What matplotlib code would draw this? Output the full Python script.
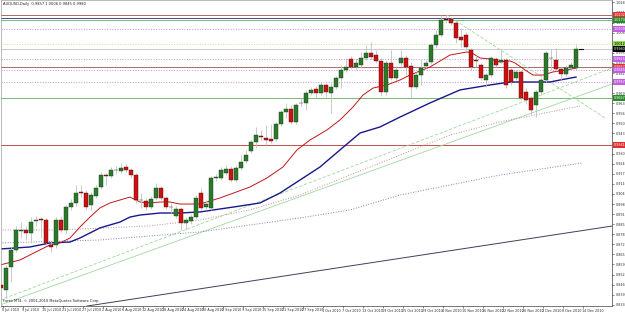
import numpy as np
import pandas as pd
import matplotlib
matplotlib.use("Agg")
import matplotlib.pyplot as plt
import matplotlib.transforms as mtransforms

# daily bars, 5 Jul 2010 .. 14 Dec 2010
dates = pd.bdate_range("2010-07-05", "2010-12-14")

opens = [0.8426, 0.8458, 0.8426, 0.8574, 0.8684, 0.8806, 0.8813, 0.8793, 0.8871, 0.8883,
         0.8877, 0.8716, 0.8716, 0.8877, 0.8813, 0.8961, 0.8987, 0.9058, 0.9051, 0.8974,
         0.9032, 0.9090, 0.9167, 0.9161, 0.9200, 0.9193, 0.9219, 0.9200, 0.9167, 0.9006,
         0.9000, 0.8961, 0.9019, 0.9083, 0.9019, 0.8961, 0.8903, 0.8948, 0.8858, 0.8871,
         0.8896, 0.9051, 0.8961, 0.8955, 0.9148, 0.9148, 0.9180, 0.9206, 0.9135, 0.9213,
         0.9258, 0.9322, 0.9380, 0.9419, 0.9406, 0.9400, 0.9400, 0.9496, 0.9574, 0.9593,
         0.9509, 0.9632, 0.9632, 0.9696, 0.9722, 0.9696, 0.9748, 0.9696, 0.9735, 0.9793,
         0.9845, 0.9916, 0.9864, 0.9877, 0.9922, 0.9954, 0.9941, 0.9903, 0.9703, 0.9890,
         0.9793, 0.9890, 0.9922, 0.9870, 0.9735, 0.9812, 0.9870, 0.9896, 1.0006, 1.0070,
         1.0173, 1.0173, 1.0148, 1.0057, 1.0070, 0.9974, 0.9909, 0.9877, 0.9780, 0.9812,
         0.9916, 0.9896, 0.9909, 0.9845, 0.9793, 0.9832, 0.9703, 0.9664, 0.9619, 0.9703,
         0.9780, 0.9922, 0.9909, 0.9851, 0.9819, 0.9857, 0.9857]
highs = [0.8477, 0.8490, 0.8587, 0.8703, 0.8838, 0.8864, 0.8838, 0.8896, 0.8903, 0.8896,
         0.8890, 0.8742, 0.8896, 0.8903, 0.8974, 0.9012, 0.9103, 0.9103, 0.9071, 0.9058,
         0.9103, 0.9187, 0.9180, 0.9219, 0.9226, 0.9245, 0.9238, 0.9213, 0.9180, 0.9051,
         0.9019, 0.9032, 0.9116, 0.9096, 0.9032, 0.8987, 0.8967, 0.8961, 0.8896, 0.8916,
         0.9038, 0.9083, 0.9006, 0.9161, 0.9174, 0.9219, 0.9232, 0.9226, 0.9232, 0.9296,
         0.9329, 0.9393, 0.9477, 0.9458, 0.9490, 0.9496, 0.9509, 0.9587, 0.9632, 0.9619,
         0.9632, 0.9664, 0.9716, 0.9735, 0.9741, 0.9767, 0.9761, 0.9761, 0.9806, 0.9877,
         0.9922, 0.9935, 0.9922, 0.9961, 1.0006, 1.0025, 0.9974, 0.9922, 0.9909, 0.9974,
         0.9870, 0.9974, 0.9941, 0.9896, 0.9832, 0.9909, 0.9909, 1.0019, 1.0103, 1.0199,
         1.0199, 1.0186, 1.0167, 1.0115, 1.0090, 0.9986, 0.9941, 0.9890, 0.9825, 0.9935,
         0.9928, 0.9974, 0.9922, 0.9857, 0.9845, 0.9845, 0.9728, 0.9677, 0.9716, 0.9793,
         0.9967, 0.9980, 0.9986, 0.9870, 0.9877, 0.9896, 1.0006]
lows = [0.8394, 0.8413, 0.8374, 0.8477, 0.8671, 0.8761, 0.8748, 0.8729, 0.8838, 0.8761,
        0.8716, 0.8671, 0.8696, 0.8800, 0.8793, 0.8942, 0.8967, 0.9025, 0.8942, 0.8942,
        0.9019, 0.9077, 0.9103, 0.9148, 0.9174, 0.9180, 0.9187, 0.9148, 0.8987, 0.8955,
        0.8942, 0.8948, 0.9006, 0.9006, 0.8948, 0.8922, 0.8890, 0.8813, 0.8813, 0.8851,
        0.8883, 0.8942, 0.8942, 0.8942, 0.9129, 0.9135, 0.9167, 0.9122, 0.9122, 0.9200,
        0.9245, 0.9309, 0.9341, 0.9393, 0.9361, 0.9374, 0.9387, 0.9483, 0.9535, 0.9496,
        0.9496, 0.9612, 0.9587, 0.9683, 0.9670, 0.9683, 0.9670, 0.9567, 0.9722, 0.9728,
        0.9832, 0.9851, 0.9845, 0.9857, 0.9909, 0.9909, 0.9890, 0.9677, 0.9683, 0.9780,
        0.9780, 0.9870, 0.9812, 0.9670, 0.9722, 0.9748, 0.9857, 0.9883, 0.9986, 1.0057,
        1.0148, 1.0135, 1.0019, 0.9993, 0.9974, 0.9845, 0.9864, 0.9780, 0.9735, 0.9799,
        0.9864, 0.9890, 0.9728, 0.9748, 0.9780, 0.9651, 0.9625, 0.9554, 0.9541, 0.9683,
        0.9767, 0.9845, 0.9838, 0.9780, 0.9806, 0.9845, 0.9845]
closes = [0.8451, 0.8438, 0.8567, 0.8684, 0.8813, 0.8813, 0.8793, 0.8864, 0.8877, 0.8877,
          0.8729, 0.8703, 0.8877, 0.8813, 0.8961, 0.8987, 0.9051, 0.9054, 0.8961, 0.9038,
          0.9083, 0.9167, 0.9164, 0.9200, 0.9199, 0.9213, 0.9200, 0.9167, 0.9006, 0.9009,
          0.8961, 0.9012, 0.9083, 0.9019, 0.8961, 0.8958, 0.8948, 0.8858, 0.8877, 0.8896,
          0.9019, 0.8955, 0.8980, 0.9148, 0.9154, 0.9200, 0.9206, 0.9135, 0.9213, 0.9251,
          0.9296, 0.9380, 0.9425, 0.9412, 0.9393, 0.9387, 0.9496, 0.9574, 0.9593, 0.9509,
          0.9619, 0.9630, 0.9696, 0.9716, 0.9696, 0.9748, 0.9703, 0.9735, 0.9793, 0.9845,
          0.9864, 0.9864, 0.9890, 0.9922, 0.9954, 0.9928, 0.9903, 0.9703, 0.9890, 0.9793,
          0.9845, 0.9922, 0.9864, 0.9735, 0.9812, 0.9857, 0.9890, 1.0006, 1.0070, 1.0167,
          1.0170, 1.0148, 1.0051, 1.0038, 0.9993, 0.9864, 0.9903, 0.9793, 0.9812, 0.9922,
          0.9877, 0.9909, 0.9748, 0.9767, 0.9832, 0.9664, 0.9651, 0.9587, 0.9703, 0.9780,
          0.9954, 0.9919, 0.9851, 0.9819, 0.9857, 0.9877, 0.9980]

# moving averages (bar index, price)
ma_fast_x = [0.8, 4.8, 8.8, 10.8, 12.8, 14.8, 16.8, 18.8, 20.8, 22.8, 24.8, 26.8, 28.8, 30.8,
             32.8, 34.8, 36.8, 38.8, 40.8, 44.8, 50.8, 54.2, 57.4, 60.2, 62.8, 66.2, 68.8,
             71.4, 73.4, 75.4, 78.2, 80.8, 82.8, 86.8, 90.8, 94.2, 95.2, 96.8, 98.8, 100.8,
             102.8, 103.8, 105.8, 107.4, 109.4, 111.4, 114.2, 116]
ma_fast_y = [0.8587, 0.8619, 0.8684, 0.8716, 0.8729, 0.8761, 0.8832, 0.8896, 0.8955, 0.8987,
             0.9006, 0.9025, 0.8993, 0.8987, 0.8993, 0.8993, 0.8980, 0.8980, 0.8980, 0.9019,
             0.9090, 0.9148, 0.9219, 0.9329, 0.9393, 0.9458, 0.9522, 0.9606, 0.9683, 0.9728,
             0.9748, 0.9780, 0.9812, 0.9864, 0.9941, 0.9961, 0.9954, 0.9922, 0.9916, 0.9896,
             0.9903, 0.9890, 0.9845, 0.9812, 0.9812, 0.9832, 0.9845, 0.9857]
ma_slow_x = [0.8, 6.8, 10.8, 14.8, 16.8, 20.8, 24.8, 26.8, 28.8, 32.8, 36.8, 40.8, 44.8, 48.8,
             52.8, 56.8, 60.8, 64.8, 68.8, 72.8, 76.8, 80.8, 86.8, 92.8, 98.8, 102.8, 106.8,
             110.8, 112.8, 116]
ma_slow_y = [0.8690, 0.8703, 0.8729, 0.8735, 0.8761, 0.8826, 0.8864, 0.8896, 0.8909, 0.8922,
             0.8922, 0.8929, 0.8948, 0.8967, 0.8987, 0.9051, 0.9135, 0.9219, 0.9329, 0.9438,
             0.9477, 0.9541, 0.9632, 0.9716, 0.9748, 0.9767, 0.9767, 0.9767, 0.9780, 0.9799]
ma100_x = [0.8, 12.8, 30.8, 40.8, 50.8, 60.8, 70.8, 80.8, 90.8, 100.8, 110.8, 116.8]
ma100_y = [0.8813, 0.8813, 0.8839, 0.8877, 0.8942, 0.9038, 0.9167, 0.9296, 0.9425, 0.9509, 0.9574, 0.9612]
ma200_x = [0.8, 20.8, 40.8, 60.8, 70.8, 80.8, 90.8, 100.8, 117.2]
ma200_y = [0.8729, 0.8748, 0.8800, 0.8890, 0.8942, 0.9038, 0.9103, 0.9167, 0.9245]

# trend lines (bar index, price)
trend_up1 = ([0.8, 123.2], [0.8361, 0.9857])
trend_up2 = ([0.8, 123.2], [0.8329, 0.9754])
trend_down = ([90.2, 121.8], [1.0199, 0.9535])
trend_long = ([18.2, 123.2], [0.8322, 0.8838])

# horizontal levels: price, colour, style, tag colour, tag text colour
levels = [
    (1.0202, "#a05050", "-", "#e03030", "white"),
    (1.0183, "#2a2a70", "-", None, None),
    (1.0170, "#60b060", "-", "#2a8a2a", "white"),
    (1.0109, "#c890d8", ":", "#c060e0", "white"),
    (1.0012, "#c0e890", ":", "#90e050", "black"),
    (0.9915, "#c890d8", ":", "#c060e0", "white"),
    (0.9867, "#a05050", "-", "#e03030", "white"),
    (0.9845, "#c890d8", ":", "#c060e0", "white"),
    (0.9767, "#c890d8", ":", "#c060e0", "white"),
    (0.9667, "#60b060", "-", "#2a8a2a", "white"),
    (0.9361, "#c03030", "-", "#e03030", "white"),
]

fig = plt.figure(figsize=(6.25, 3.13), dpi=100)
ax = fig.add_axes([1 / 625, 7 / 313, 611 / 625, 306 / 313])
ax.set_xlim(1.0, 123.2)
ax.set_ylim(0.83223, 1.0296)

idx = np.arange(len(dates))
o = np.array(opens); h = np.array(highs); l = np.array(lows); c = np.array(closes)
up = c >= o

# horizontal lines
for price, col, ls, tag, tcol in levels:
    ax.axhline(price, color=col, ls=ls, lw=0.6 if ls == "-" else 0.7, zorder=1)
ax.axhline(c[-1], color="#c0c0c0", lw=0.6, zorder=1)

# trend lines
ax.plot(*trend_up1, color="#a0d8a0", ls=(0, (4, 2)), lw=0.6, zorder=1)
ax.plot(*trend_up2, color="#a0d8a0", lw=0.6, zorder=1)
ax.plot(*trend_down, color="#a0d8a0", ls=(0, (4, 2)), lw=0.6, zorder=1)
ax.plot(*trend_long, color="#404058", lw=0.7, zorder=1)

# moving averages
ax.plot(ma100_x, ma100_y, color="#c09090", ls=":", lw=0.7, zorder=2)
ax.plot(ma200_x, ma200_y, color="#8080b8", ls=":", lw=0.7, zorder=2)
ax.plot(ma_slow_x, ma_slow_y, color="#18188c", lw=1.0, zorder=2)
ax.plot(ma_fast_x, ma_fast_y, color="#c01818", lw=0.7, zorder=2)

# candles
ax.vlines(idx, l, h, color="#c0c0c0", lw=0.6, zorder=3)
body_lo = np.minimum(o, c)
body_h = np.maximum(np.abs(c - o), 0.0003)
ax.bar(idx[up], body_h[up], bottom=body_lo[up], width=0.62, color="#2a7a2a",
       edgecolor="#1a3a1a", lw=0.3, zorder=4)
ax.bar(idx[~up], body_h[~up], bottom=body_lo[~up], width=0.62, color="#d01010",
       edgecolor="#3a1010", lw=0.3, zorder=4)
ax.plot([idx[-1] + 0.5, idx[-1] + 1.3], [c[-1], c[-1]], color="black", lw=0.8, zorder=4)

# price axis
yt = np.arange(0.8330, 1.0296, 0.0065)
ax.yaxis.tick_right()
ax.set_yticks(yt)
ax.set_yticklabels([f"{v:.5f}" for v in yt])
ax.tick_params(axis="y", labelsize=2.4, length=1.5, width=0.4, pad=1, colors="#303030")

# price tags
trans = mtransforms.blended_transform_factory(ax.transAxes, ax.transData)
for price, col, ls, tag, tcol in levels:
    if tag:
        ax.text(1.003, price, f"{price:.5f}", transform=trans, fontsize=2.4, color=tcol,
                va="center", ha="left", clip_on=False, zorder=6,
                bbox=dict(boxstyle="square,pad=0.3", fc=tag, ec="none"))
ax.text(1.003, c[-1], f"{c[-1]:.5f}", transform=trans, fontsize=2.4, color="white",
        va="center", ha="left", clip_on=False, zorder=6,
        bbox=dict(boxstyle="square,pad=0.3", fc="black", ec="none"))

# date axis
lab_idx = [i for i in idx if (len(idx) - 1 - i) % 4 == 0]
ax.set_xticks([i + 1.3 for i in lab_idx])
ax.set_xticklabels([f"{dates[i].day} {dates[i].strftime('%b %Y')}" for i in lab_idx])
ax.tick_params(axis="x", labelsize=2.4, length=1.2, width=0.4, pad=0.6, colors="#303030")
plt.setp(ax.get_xticklabels(), ha="left")

for side in ["top", "left"]:
    ax.spines[side].set_color("#a0a0a0")
    ax.spines[side].set_linewidth(0.5)
for side in ["right", "bottom"]:
    ax.spines[side].set_color("#404040")
    ax.spines[side].set_linewidth(0.5)

ax.text(0.004, 0.994, f"AUDUSD,Daily  {o[-1]:.4f} {h[-1]:.4f} {l[-1]:.4f} {c[-1]:.4f}",
        transform=ax.transAxes, fontsize=2.6, va="top", ha="left", color="#202020")
ax.text(0.004, 0.01, "Forex MT4, \u00a9 2001-2010 MetaQuotes Software Corp.",
        transform=ax.transAxes, fontsize=2.6, va="bottom", ha="left", color="#202020")

fig.savefig("out.png", dpi=100)
